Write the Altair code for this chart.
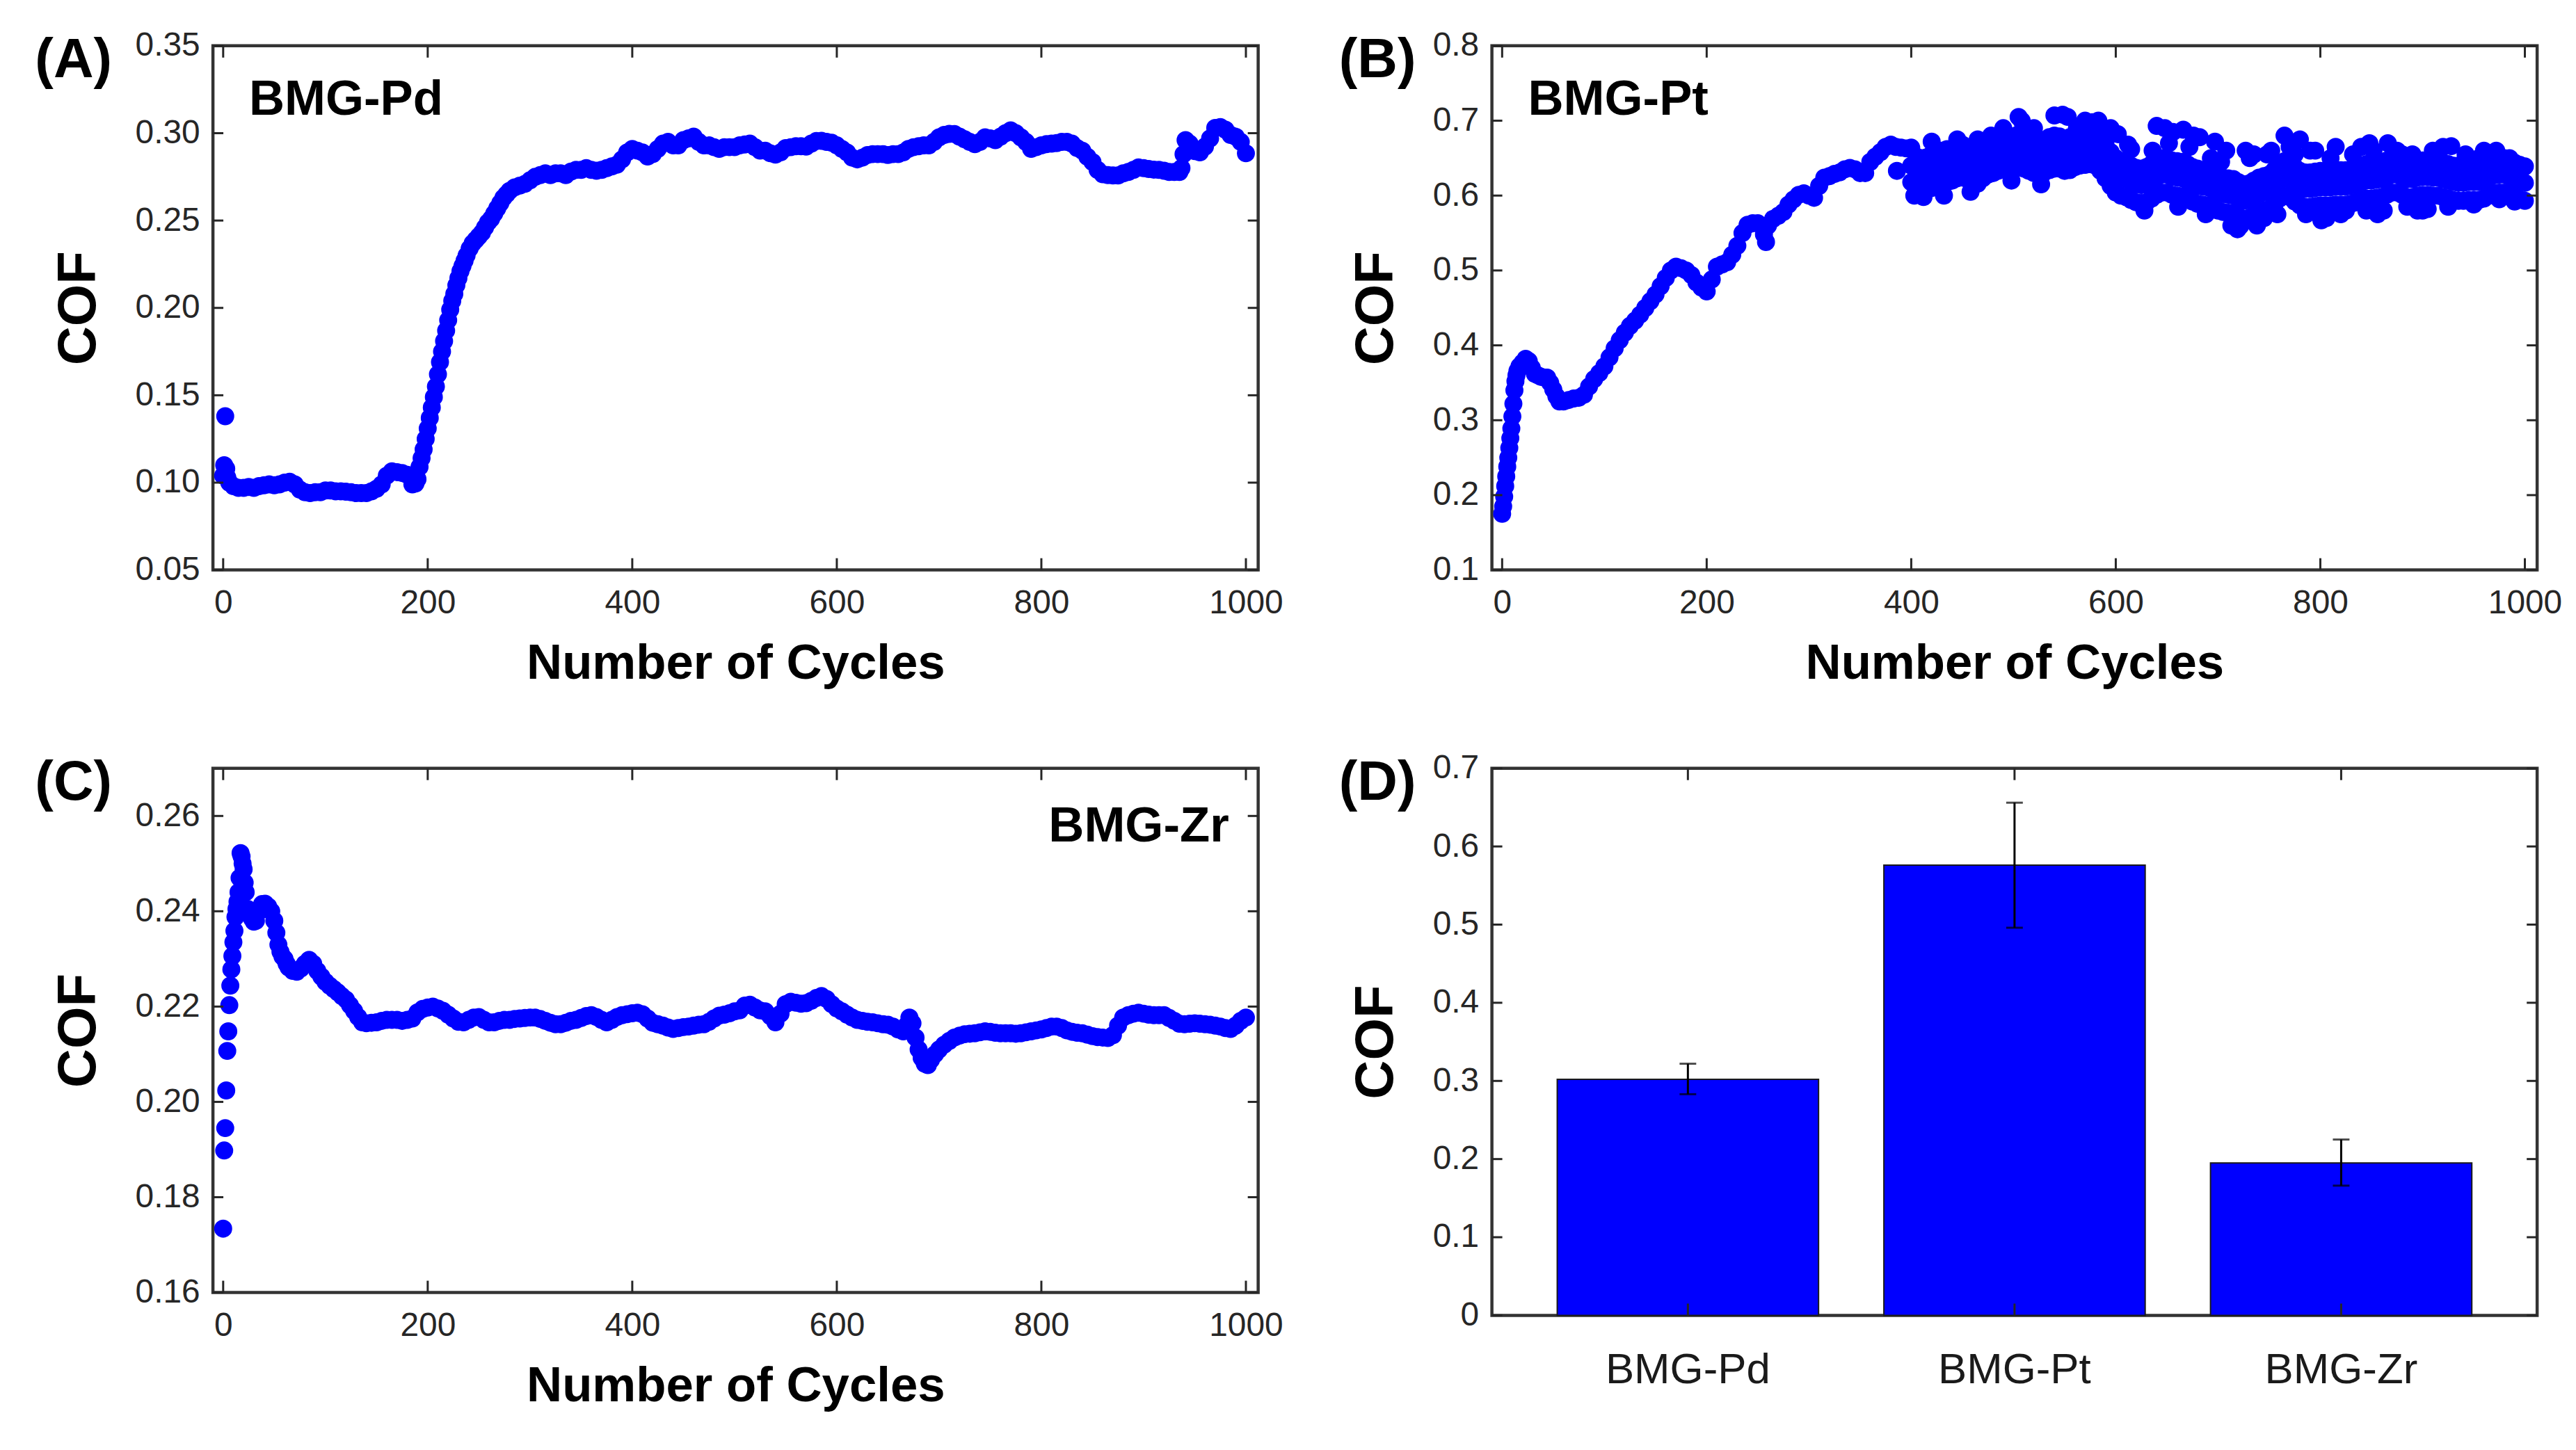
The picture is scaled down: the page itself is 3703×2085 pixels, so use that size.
import altair as alt
import pandas as pd

BLUE = "#0000FF"
AXC = "#262626"

# ---------------- (A) BMG-Pd ----------------
A_CYCLES = ([0, 1, 2, 3, 4, 6] + list(range(10, 186, 5)) + [188, 190]
            + list(range(192, 239, 2)) + list(range(241, 281, 3)) + [285, 290]
            + list(range(295, 936, 5)) + [937, 939, 941] + list(range(945, 1001, 5)))
A_COF = [0.104, 0.110, 0.138, 0.108, 0.103, 0.100,
         0.098, 0.097, 0.097, 0.0975, 0.097, 0.098, 0.0985, 0.099, 0.0985, 0.099,
         0.100, 0.1005, 0.099, 0.096, 0.0945, 0.094, 0.0945, 0.0945, 0.0955, 0.0955,
         0.095, 0.095, 0.0948, 0.0945, 0.094, 0.094, 0.094, 0.095, 0.0965, 0.099,
         0.104, 0.1065, 0.106, 0.1055, 0.1045, 0.099,
         0.0995, 0.102,
         0.109, 0.114, 0.119, 0.125, 0.131, 0.137, 0.143, 0.149, 0.155, 0.162, 0.169, 0.175,
         0.181, 0.187, 0.193, 0.199, 0.204, 0.208, 0.213, 0.217, 0.221, 0.224, 0.227, 0.230,
         0.234, 0.237, 0.239, 0.241, 0.243, 0.246, 0.249, 0.251, 0.254, 0.257, 0.260, 0.263,
         0.265, 0.267,
         0.269, 0.270,
         0.271, 0.273, 0.275, 0.276, 0.277, 0.276, 0.277, 0.277, 0.276, 0.278,
         0.279, 0.279, 0.280, 0.279, 0.2785, 0.279, 0.280, 0.281, 0.282, 0.285,
         0.289, 0.291, 0.290, 0.289, 0.2866, 0.288, 0.291, 0.294, 0.295, 0.293,
         0.293, 0.296, 0.297, 0.298, 0.295, 0.293, 0.293, 0.292, 0.291, 0.292,
         0.292, 0.292, 0.293, 0.2935, 0.294, 0.292, 0.290, 0.290, 0.2885, 0.2877,
         0.289, 0.2915, 0.292, 0.2925, 0.2925, 0.2923, 0.294, 0.2955, 0.2956, 0.295,
         0.2945, 0.293, 0.291, 0.289, 0.286, 0.285, 0.286, 0.2875, 0.288, 0.288,
         0.288, 0.2875, 0.288, 0.288, 0.289, 0.291, 0.292, 0.2925, 0.293, 0.293,
         0.295, 0.2976, 0.299, 0.2996, 0.2995, 0.298, 0.2965, 0.295, 0.2937, 0.295,
         0.2976, 0.297, 0.296, 0.298, 0.300, 0.3016, 0.300, 0.2976, 0.295, 0.291,
         0.292, 0.293, 0.2937, 0.294, 0.2943, 0.295, 0.295, 0.294, 0.2915, 0.290,
         0.2865, 0.2835, 0.279, 0.2765, 0.276, 0.2758, 0.2758, 0.277, 0.2778, 0.279,
         0.2804, 0.280, 0.2795, 0.2791, 0.279, 0.2785, 0.2778, 0.2778, 0.2778,
         0.280, 0.288, 0.296,
         0.294, 0.2897, 0.289, 0.2923, 0.297, 0.303, 0.3035, 0.302, 0.299, 0.298, 0.295, 0.2885]

# ---------------- (B) BMG-Pt ----------------
B_SMOOTH_CYCLES = (list(range(0, 16)) + [17, 20, 23, 26, 29, 32, 35, 38, 41, 44, 47, 50, 53, 56]
                   + list(range(60, 400, 5)))
B_SMOOTH_COF = [0.175, 0.185, 0.198, 0.212, 0.225, 0.238, 0.250, 0.263, 0.276, 0.289, 0.305, 0.322,
                0.340, 0.352, 0.360, 0.366,
                0.372, 0.377, 0.382, 0.379, 0.370, 0.362, 0.360, 0.358, 0.357, 0.357, 0.350, 0.341,
                0.332, 0.325,
                0.325, 0.327, 0.329, 0.330, 0.334, 0.345, 0.355, 0.363, 0.372, 0.384,
                0.396, 0.407, 0.417, 0.426, 0.433, 0.441, 0.450, 0.459, 0.468, 0.479,
                0.490, 0.500, 0.505, 0.503, 0.500, 0.494, 0.484, 0.477, 0.472, 0.488,
                0.505, 0.508, 0.511, 0.521, 0.533, 0.550, 0.561, 0.563, 0.563, 0.558,
                0.560, 0.569, 0.573, 0.578, 0.588, 0.595, 0.601, 0.603, 0.600, 0.597,
                0.613, 0.624, 0.626, 0.629, 0.631, 0.635, 0.637, 0.635, 0.630, 0.630,
                0.645, 0.652, 0.658, 0.665, 0.668, 0.665, 0.664, 0.663]
# noisy part (cycles 400-1000, every 5 cycles): middle, upper edge and lower edge of the dense cloud
B_CLOUD_CYCLES = list(range(400, 1001, 5))
B_CORE_COF = [0.640, 0.630, 0.628, 0.630, 0.632, 0.635, 0.638, 0.640, 0.642, 0.645,
              0.646, 0.644, 0.640, 0.638, 0.645, 0.650, 0.652, 0.655, 0.657, 0.658,
              0.658, 0.660, 0.658, 0.655, 0.652, 0.650, 0.653, 0.656, 0.658, 0.658,
              0.655, 0.656, 0.660, 0.662, 0.663, 0.664, 0.662, 0.655, 0.645, 0.635,
              0.628, 0.624, 0.622, 0.618, 0.615, 0.614, 0.615, 0.620, 0.625, 0.628,
              0.628, 0.625, 0.624, 0.623, 0.620, 0.616, 0.613, 0.612, 0.611, 0.608,
              0.604, 0.602, 0.601, 0.600, 0.596, 0.593, 0.594, 0.598, 0.602, 0.604,
              0.606, 0.612, 0.620, 0.624, 0.622, 0.616, 0.611, 0.609, 0.609, 0.610,
              0.611, 0.611, 0.611, 0.612, 0.612, 0.612, 0.613, 0.615, 0.618, 0.620,
              0.620, 0.621, 0.622, 0.625, 0.628, 0.628, 0.625, 0.622, 0.622, 0.624,
              0.625, 0.625, 0.624, 0.624, 0.622, 0.620, 0.618, 0.617, 0.617, 0.618,
              0.618, 0.618, 0.620, 0.624, 0.627, 0.628, 0.628, 0.626, 0.622, 0.619,
              0.617]
B_UPPER_COF = [0.664, 0.652, 0.650, 0.651, 0.655, 0.656, 0.660, 0.662, 0.661, 0.666,
               0.668, 0.664, 0.662, 0.660, 0.666, 0.672, 0.673, 0.676, 0.678, 0.680,
               0.679, 0.682, 0.680, 0.676, 0.674, 0.672, 0.674, 0.678, 0.680, 0.679,
               0.676, 0.678, 0.682, 0.684, 0.685, 0.686, 0.684, 0.676, 0.668, 0.658,
               0.650, 0.646, 0.644, 0.640, 0.637, 0.636, 0.638, 0.642, 0.648, 0.650,
               0.650, 0.647, 0.646, 0.645, 0.642, 0.638, 0.636, 0.634, 0.633, 0.630,
               0.626, 0.624, 0.623, 0.622, 0.618, 0.615, 0.616, 0.620, 0.624, 0.626,
               0.628, 0.634, 0.642, 0.646, 0.644, 0.638, 0.633, 0.631, 0.631, 0.632,
               0.633, 0.633, 0.633, 0.634, 0.634, 0.634, 0.635, 0.637, 0.640, 0.642,
               0.642, 0.643, 0.644, 0.647, 0.650, 0.650, 0.647, 0.644, 0.644, 0.646,
               0.647, 0.647, 0.646, 0.646, 0.644, 0.642, 0.640, 0.639, 0.639, 0.640,
               0.640, 0.640, 0.642, 0.646, 0.649, 0.650, 0.650, 0.648, 0.644, 0.641,
               0.639]
B_LOWER_COF = [0.618, 0.608, 0.606, 0.608, 0.610, 0.613, 0.616, 0.618, 0.620, 0.623,
               0.624, 0.622, 0.618, 0.616, 0.623, 0.628, 0.630, 0.633, 0.635, 0.636,
               0.636, 0.638, 0.636, 0.633, 0.630, 0.628, 0.631, 0.634, 0.636, 0.636,
               0.633, 0.634, 0.638, 0.640, 0.641, 0.642, 0.640, 0.633, 0.623, 0.613,
               0.604, 0.600, 0.598, 0.594, 0.591, 0.590, 0.591, 0.596, 0.601, 0.604,
               0.604, 0.601, 0.600, 0.599, 0.596, 0.592, 0.589, 0.588, 0.587, 0.584,
               0.580, 0.578, 0.577, 0.576, 0.572, 0.569, 0.570, 0.574, 0.578, 0.580,
               0.582, 0.588, 0.596, 0.600, 0.598, 0.592, 0.587, 0.585, 0.585, 0.586,
               0.587, 0.587, 0.587, 0.588, 0.588, 0.588, 0.589, 0.591, 0.594, 0.596,
               0.596, 0.597, 0.598, 0.601, 0.604, 0.604, 0.601, 0.598, 0.598, 0.600,
               0.601, 0.601, 0.600, 0.600, 0.598, 0.596, 0.594, 0.593, 0.593, 0.594,
               0.594, 0.594, 0.596, 0.600, 0.603, 0.604, 0.604, 0.602, 0.598, 0.595,
               0.593]
# individually visible scattered points
B_OUT_CYCLES = [256, 258, 386, 403, 412, 420, 432, 445, 458, 465, 478, 490, 498, 505, 508,
                520, 527, 540, 548, 553, 562, 570, 577, 583, 590, 595, 602, 612, 615, 628,
                636, 640, 648, 652, 656, 661, 666, 672, 676, 682, 688, 693, 697, 703, 708,
                713, 719, 722, 727, 731, 735, 738, 742, 745, 748, 752, 758, 765, 770, 775,
                780, 786, 790, 795, 801, 806, 810, 815, 820, 825, 832, 840, 845, 848, 852,
                856, 862, 866, 875, 880, 885, 890, 895, 900, 905, 910, 915, 920, 925, 928,
                935, 942, 950, 955, 960, 966, 972, 975, 980, 985, 990, 995]
B_OUT_COF = [0.548, 0.538, 0.633, 0.600, 0.598, 0.672, 0.600, 0.675, 0.605, 0.675, 0.680,
             0.690, 0.620, 0.705, 0.700, 0.690, 0.615, 0.707, 0.708, 0.705, 0.690, 0.700,
             0.698, 0.700, 0.685, 0.690, 0.682, 0.668, 0.662, 0.580, 0.660, 0.693, 0.690,
             0.670, 0.685, 0.585, 0.688, 0.665, 0.680, 0.678, 0.575, 0.650, 0.672, 0.645,
             0.660, 0.560, 0.555, 0.560, 0.660, 0.650, 0.655, 0.560, 0.575, 0.570, 0.655,
             0.660, 0.575, 0.680, 0.665, 0.655, 0.675, 0.575, 0.660, 0.660, 0.567, 0.570,
             0.650, 0.665, 0.575, 0.580, 0.655, 0.665, 0.580, 0.670, 0.660, 0.575, 0.580,
             0.670, 0.660, 0.655, 0.585, 0.655, 0.580, 0.580, 0.582, 0.660, 0.652, 0.665,
             0.585, 0.666, 0.640, 0.655, 0.588, 0.650, 0.660, 0.655, 0.660, 0.595, 0.645,
             0.650, 0.592, 0.630]

# ---------------- (C) BMG-Zr ----------------
C_CYCLES = (list(range(0, 23)) + [24, 26, 28, 30, 32, 35, 38, 41, 44, 47, 50]
            + list(range(52, 65, 2)) + list(range(68, 137, 4)) + list(range(140, 666, 5))
            + [668, 671, 674, 677, 680, 683, 686, 689, 692, 696, 700] + list(range(705, 1001, 5)))
C_COF = [0.1734, 0.1898, 0.1945, 0.2024, 0.2107, 0.2148, 0.2203, 0.2244, 0.2278, 0.2306,
         0.2335, 0.2359, 0.2388, 0.2405, 0.2420, 0.2440, 0.2470, 0.2522, 0.2515, 0.2500,
         0.2488, 0.2460, 0.2440,
         0.2405, 0.2395, 0.2385, 0.2378, 0.2380, 0.2400, 0.2415, 0.2416, 0.2410, 0.2400, 0.2380,
         0.2355, 0.2330, 0.2315, 0.2305, 0.2300, 0.2290, 0.2282,
         0.2275, 0.2273, 0.2280, 0.2290, 0.2298, 0.2290, 0.2275, 0.2263, 0.2252, 0.2244,
         0.2237, 0.2230, 0.2222, 0.2215, 0.2203, 0.2191, 0.2178, 0.2167,
         0.2165, 0.2166, 0.2167, 0.2170, 0.2172, 0.2172, 0.2172, 0.2170, 0.2172, 0.2175,
         0.2188, 0.2195, 0.2198, 0.2200, 0.2196, 0.2191, 0.2183, 0.2175, 0.2168, 0.2167,
         0.2172, 0.2177, 0.2178, 0.2172, 0.2167, 0.2167, 0.2170, 0.2172, 0.2172, 0.2174,
         0.2175, 0.2176, 0.2177, 0.2177, 0.2174, 0.2170, 0.2166, 0.2163, 0.2163, 0.2166,
         0.2170, 0.2172, 0.2176, 0.2180, 0.2182, 0.2178, 0.2172, 0.2167, 0.2172, 0.2178,
         0.2182, 0.2184, 0.2186, 0.2187, 0.2184, 0.2175, 0.2166, 0.2163, 0.2160, 0.2156,
         0.2153, 0.2155, 0.2157, 0.2158, 0.2160, 0.2162, 0.2163, 0.2168, 0.2175, 0.2181,
         0.2183, 0.2186, 0.2190, 0.2192, 0.2202, 0.2204, 0.2198, 0.2192, 0.2190, 0.2180,
         0.2167, 0.2185, 0.2205, 0.2210, 0.2208, 0.2206, 0.2207, 0.2212, 0.2218, 0.2222,
         0.2216, 0.2205, 0.2196, 0.2190, 0.2183, 0.2177, 0.2172, 0.2170, 0.2168, 0.2167,
         0.2165, 0.2163, 0.2162, 0.2158, 0.2152, 0.2148,
         0.2160, 0.2177, 0.2165, 0.2135, 0.2110, 0.2092, 0.2080, 0.2077, 0.2088, 0.2100, 0.2110,
         0.2120, 0.2128, 0.2135, 0.2139, 0.2142, 0.2143, 0.2144, 0.2146, 0.2148, 0.2147,
         0.2145, 0.2144, 0.2144, 0.2144, 0.2143, 0.2144, 0.2146, 0.2148, 0.2150, 0.2152,
         0.2155, 0.2158, 0.2158, 0.2155, 0.2150, 0.2147, 0.2145, 0.2144, 0.2141, 0.2138,
         0.2136, 0.2135, 0.2134, 0.2140, 0.2160, 0.2177, 0.2182, 0.2185, 0.2187, 0.2185,
         0.2183, 0.2182, 0.2182, 0.2182, 0.2176, 0.2170, 0.2164, 0.2163, 0.2164, 0.2165,
         0.2164, 0.2163, 0.2162, 0.2160, 0.2158, 0.2155, 0.2153, 0.2160, 0.2170, 0.2177]

# ---------------- (D) averages ----------------
ALLOYS = ["BMG-Pd", "BMG-Pt", "BMG-Zr"]
BAR_MEAN = [0.302, 0.576, 0.195]
ERR_LOW = [0.283, 0.496, 0.166]
ERR_HIGH = [0.322, 0.656, 0.225]

X_TICKS = [0, 200, 400, 600, 800, 1000]
A_YTICKS = [0.05, 0.10, 0.15, 0.20, 0.25, 0.30, 0.35]
B_YTICKS = [0.1, 0.2, 0.3, 0.4, 0.5, 0.6, 0.7, 0.8]
C_YTICKS = [0.16, 0.18, 0.20, 0.22, 0.24, 0.26]
D_YTICKS = [0.0, 0.1, 0.2, 0.3, 0.4, 0.5, 0.6, 0.7]

W = 1507
H = 756
HD = 789
TX = 17   # x tick length (inward)
TY = 15   # y tick length (inward)
PT_SIZE = 600

LABEL_FONT = "Liberation Sans"
NARROW = "Liberation Sans Narrow, Liberation Sans"

dummy = pd.DataFrame({"k": [0]})


def y_axis(values, fmt=None, expr=None):
    kw = dict(values=values, title="COF", ticks=False, tickSize=0, domain=False, grid=False,
              labelPadding=19, titlePadding=42, labelFlush=False, labelOverlap=False,
              titleFont=NARROW, titleFontSize=78, titleFontWeight="bold", titleColor="black")
    if fmt:
        kw["format"] = fmt
    if expr:
        kw["labelExpr"] = expr
    return alt.Axis(**kw)


def curve_panel(df, ydomain, yticks, yfmt, letter, letter_x, note, note_right=False):
    x_enc = alt.X("cycle:Q", scale=alt.Scale(domain=[-10, 1012], nice=False, zero=False),
                  axis=alt.Axis(values=X_TICKS, format="d", title="Number of Cycles", ticks=False,
                                tickSize=0, domain=False, grid=False, labelPadding=24,
                                titlePadding=28, labelFlush=False, labelOverlap=False,
                                titleFont=LABEL_FONT, titleFontSize=71, titleFontWeight="bold",
                                titleColor="black"))
    y_enc = alt.Y("cof:Q", scale=alt.Scale(domain=ydomain, nice=False, zero=False),
                  axis=y_axis(yticks, fmt=yfmt))
    pts = alt.Chart(df).mark_circle(size=PT_SIZE, color=BLUE, opacity=1, stroke=BLUE,
                                    strokeWidth=1.5, strokeOpacity=1).encode(x=x_enc, y=y_enc)
    xt = pd.DataFrame({"cycle": X_TICKS})
    yt = pd.DataFrame({"cof": yticks})
    rule = dict(color=AXC, strokeWidth=3)
    xb = alt.Chart(xt).mark_rule(**rule).encode(x=x_enc, y=alt.value(H), y2=alt.value(H - TX))
    xtop = alt.Chart(xt).mark_rule(**rule).encode(x=x_enc, y=alt.value(0), y2=alt.value(TX))
    yl = alt.Chart(yt).mark_rule(**rule).encode(y=y_enc, x=alt.value(0), x2=alt.value(TY))
    yr = alt.Chart(yt).mark_rule(**rule).encode(y=y_enc, x=alt.value(W), x2=alt.value(W - TY))
    if note_right:
        nt = alt.Chart(dummy).mark_text(align="right", baseline="alphabetic", font=LABEL_FONT,
                                        fontSize=71, fontWeight="bold", color="black").encode(
            x=alt.value(W - 42), y=alt.value(106), text=alt.value(note))
    else:
        nt = alt.Chart(dummy).mark_text(align="left", baseline="alphabetic", font=LABEL_FONT,
                                        fontSize=71, fontWeight="bold", color="black").encode(
            x=alt.value(52), y=alt.value(99), text=alt.value(note))
    lt = alt.Chart(dummy).mark_text(align="center", baseline="middle", font=LABEL_FONT,
                                    fontSize=80, fontWeight="bold", color="black").encode(
        x=alt.value(letter_x), y=alt.value(21), text=alt.value(letter))
    return alt.layer(pts, xb, xtop, yl, yr, nt, lt).properties(width=W, height=H)


dfA = pd.DataFrame({"cycle": A_CYCLES, "cof": A_COF})
dfB = pd.DataFrame({
    "cycle": B_SMOOTH_CYCLES + B_CLOUD_CYCLES * 3 + B_OUT_CYCLES,
    "cof": B_SMOOTH_COF + B_CORE_COF + B_UPPER_COF + B_LOWER_COF + B_OUT_COF,
})
dfC = pd.DataFrame({"cycle": C_CYCLES, "cof": C_COF})

panelA = curve_panel(dfA, [0.05, 0.35], A_YTICKS, ".2f", "(A)", -201, "BMG-Pd")
panelB = curve_panel(dfB, [0.1, 0.8], B_YTICKS, ".1f", "(B)", -165, "BMG-Pt")
panelC = curve_panel(dfC, [0.16, 0.27], C_YTICKS, ".2f", "(C)", -201, "BMG-Zr", note_right=True)

# bar panel
dfD = pd.DataFrame({"alloy": ALLOYS, "cof": BAR_MEAN})
dfErr = pd.DataFrame({"alloy": ALLOYS, "cof": ERR_LOW, "hi": ERR_HIGH})
dfCaps = pd.DataFrame({"alloy": ALLOYS + ALLOYS, "cof": ERR_LOW + ERR_HIGH})
xd = alt.X("alloy:N", sort=ALLOYS, scale=alt.Scale(paddingInner=0.2, paddingOuter=0.2),
           axis=alt.Axis(title=None, labelAngle=0, ticks=False, tickSize=0, domain=False,
                         grid=False, labelPadding=48, labelFont=LABEL_FONT, labelFontSize=62,
                         labelColor="#1a1a1a", labelLimit=0))
yd = alt.Y("cof:Q", scale=alt.Scale(domain=[0, 0.7], nice=False, zero=True),
           axis=y_axis(D_YTICKS, expr="datum.value == 0 ? '0' : format(datum.value, '.1f')"))
bars = alt.Chart(dfD).mark_bar(color=BLUE, stroke="#1a1a1a", strokeWidth=2).encode(x=xd, y=yd)
err = alt.Chart(dfErr).mark_rule(color="black", strokeWidth=3).encode(x=xd, y=yd, y2=alt.Y2("hi"))
caps = alt.Chart(dfCaps).mark_tick(color="black", thickness=3, size=24).encode(x=xd, y=yd)
dxt = pd.DataFrame({"alloy": ALLOYS})
dyt = pd.DataFrame({"cof": D_YTICKS})
rule = dict(color=AXC, strokeWidth=3)
dxb = alt.Chart(dxt).mark_rule(**rule).encode(x=xd, y=alt.value(HD), y2=alt.value(HD - TX))
dxtop = alt.Chart(dxt).mark_rule(**rule).encode(x=xd, y=alt.value(0), y2=alt.value(TX))
dyl = alt.Chart(dyt).mark_rule(**rule).encode(y=yd, x=alt.value(0), x2=alt.value(TY))
dyr = alt.Chart(dyt).mark_rule(**rule).encode(y=yd, x=alt.value(W), x2=alt.value(W - TY))
dlt = alt.Chart(dummy).mark_text(align="center", baseline="middle", font=LABEL_FONT,
                                 fontSize=80, fontWeight="bold", color="black").encode(
    x=alt.value(-165), y=alt.value(21), text=alt.value("(D)"))
panelD = alt.layer(bars, err, caps, dxb, dxtop, dyl, dyr, dlt).properties(width=W, height=HD)

row1 = alt.hconcat(panelA, panelB, spacing=76)
row2 = alt.hconcat(panelC, panelD, spacing=76)
chart = alt.vconcat(row1, row2, spacing=86).properties(
    padding={"left": 40, "top": 28, "right": 10, "bottom": 10},
    background="white",
).configure_view(
    stroke="#333333", strokeWidth=4.5
).configure_axis(
    labelFont=LABEL_FONT, labelFontSize=48, labelColor=AXC,
)

chart.save("out.html", embed_options={"renderer": "svg", "actions": False})
